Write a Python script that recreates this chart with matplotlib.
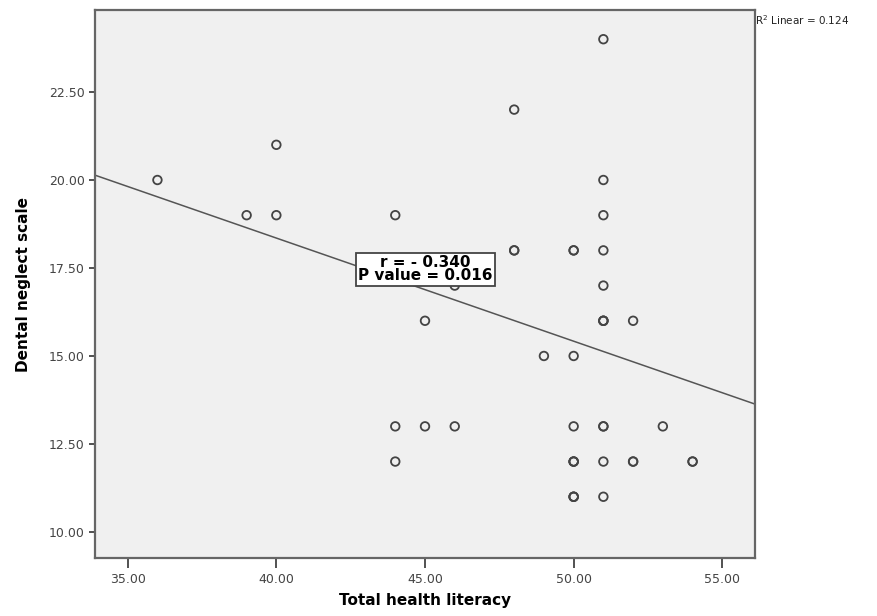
import numpy as np
import matplotlib
matplotlib.use("Agg")
import matplotlib.pyplot as plt

# Total health literacy (x) vs Dental neglect scale (y), repeated pairs = overplotted points
health_literacy = [36, 39, 40, 40, 44, 44, 44, 45, 45, 46, 46, 48, 48, 48, 49,
                   50, 50, 50, 50, 50, 50, 50, 50, 50, 50,
                   51, 51, 51, 51, 51, 51, 51, 51, 51, 51, 51, 51,
                   52, 52, 52, 53, 54, 54]
dental_neglect = [20, 19, 19, 21, 19, 13, 12, 16, 13, 17, 13, 22, 18, 18, 15,
                  18, 18, 15, 13, 12, 12, 12, 11, 11, 11,
                  24, 20, 19, 18, 17, 16, 16, 16, 13, 13, 12, 11,
                  16, 12, 12, 13, 12, 12]

# fit line
fit_intercept = 30.07
fit_slope = -0.293

x_ticks = [35, 40, 45, 50, 55]
y_ticks = [10, 12.5, 15, 17.5, 20, 22.5]

fig = plt.figure(figsize=(8.77, 6.16), dpi=100)
ax = fig.add_axes([95 / 877, 1 - 558 / 616, 660 / 877, 548 / 616])
ax.set_facecolor('#f0f0f0')

xmin, xmax = 33.9, 56.1
ax.set_xlim(xmin, xmax)
ax.set_ylim(9.26, 24.83)

ax.scatter(health_literacy, dental_neglect, s=38, facecolors='none',
           edgecolors='#444444', linewidths=1.3, zorder=3)

xs = np.array([xmin, xmax])
ax.plot(xs, fit_intercept + fit_slope * xs, color='#555555', lw=1.1, zorder=2)

ax.set_xticks(x_ticks)
ax.set_xticklabels(['%.2f' % v for v in x_ticks])
ax.set_yticks(y_ticks)
ax.set_yticklabels(['%.2f' % v for v in y_ticks])
ax.tick_params(axis='both', labelsize=9, labelcolor='#444444', color='#333333',
               direction='out', width=1.2)
ax.tick_params(axis='y', length=4)
ax.tick_params(axis='x', length=7)

for s in ax.spines.values():
    s.set_color('#666666')
    s.set_linewidth(1.6)

ax.set_xlabel('Total health literacy', fontsize=11, fontweight='bold', labelpad=5)
ax.set_ylabel('Dental neglect scale', fontsize=11, fontweight='bold', labelpad=13)

ax.text(45.02, 17.46, 'r = - 0.340\nP value = 0.016', ha='center', va='center',
        fontsize=11, fontweight='bold', linespacing=0.85, zorder=4,
        bbox=dict(boxstyle='square,pad=0.16', fc='white', ec='#444444', lw=1.3))

fig.text(755 / 877, 1 - 20 / 616, 'R$^2$ Linear = 0.124', fontsize=7.5,
         color='#222222', ha='left', va='center')

fig.savefig('out.png', dpi=100)
